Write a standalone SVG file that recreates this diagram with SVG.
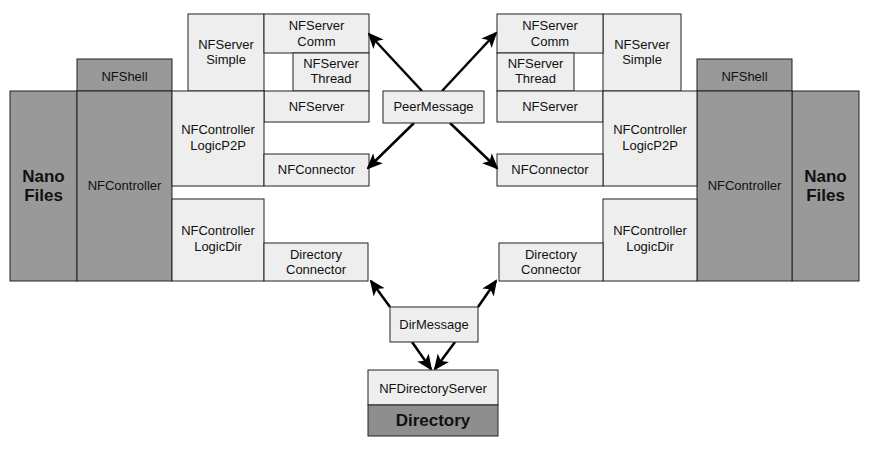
<svg xmlns="http://www.w3.org/2000/svg" width="878" height="451" viewBox="0 0 878 451">
<style>
.l{fill:#eeeeee;stroke:#222;stroke-width:1}
.d{fill:#999999;stroke:#222;stroke-width:1}
.dd{fill:#8e8e8e;stroke:#222;stroke-width:1}
text{font-family:"Liberation Sans",Arial,sans-serif;font-size:13px;fill:#111;text-anchor:middle}
.b{font-weight:bold;font-size:17px}
.c{stroke:#000;stroke-width:2.5;fill:none;marker-end:url(#ah)}
</style>
<defs>
<marker id="ah" markerUnits="userSpaceOnUse" markerWidth="16" markerHeight="14" refX="14" refY="7" orient="auto">
<path d="M0,0 L16,7 L0,14 L4,7 z" fill="#000"/>
</marker>
</defs>
<rect width="878" height="451" fill="#fff"/>
<g id="left">
<g id="l-nanofiles"><rect class="d" x="10" y="91" width="67" height="190"/><text class="b" x="43.5" y="182">Nano</text><text class="b" x="43.5" y="201">Files</text></g>
<g id="l-nfshell"><rect class="d" x="77" y="59" width="95" height="32"/><text x="124.5" y="81">NFShell</text></g>
<g id="l-nfcontroller"><rect class="d" x="77" y="91" width="95" height="190"/><text x="124.5" y="190">NFController</text></g>
<g id="l-simple"><rect class="l" x="188" y="14" width="76" height="77"/><text x="226" y="49">NFServer</text><text x="226" y="64">Simple</text></g>
<g id="l-comm"><rect class="l" x="264" y="14" width="105" height="39"/><text x="316.5" y="30">NFServer</text><text x="316.5" y="46">Comm</text></g>
<g id="l-thread"><rect class="l" x="293" y="53" width="76" height="38"/><text x="331" y="68">NFServer</text><text x="331" y="83">Thread</text></g>
<g id="l-nfserver"><rect class="l" x="264" y="91" width="105" height="31"/><text x="316.5" y="111">NFServer</text></g>
<g id="l-p2p"><rect class="l" x="172" y="91" width="92" height="95"/><text x="218" y="134">NFController</text><text x="218" y="150">LogicP2P</text></g>
<g id="l-nfconnector"><rect class="l" x="264" y="154" width="105" height="32"/><text x="316.5" y="174">NFConnector</text></g>
<g id="l-dir"><rect class="l" x="172" y="199" width="92" height="82"/><text x="218" y="235">NFController</text><text x="218" y="251">LogicDir</text></g>
<g id="l-dirconn"><rect class="l" x="264" y="243" width="104" height="38"/><text x="316" y="259">Directory</text><text x="316" y="274">Connector</text></g>
</g>
<g id="right">
<g id="r-nanofiles"><rect class="d" x="792" y="91" width="67" height="190"/><text class="b" x="825.5" y="182">Nano</text><text class="b" x="825.5" y="201">Files</text></g>
<g id="r-nfshell"><rect class="d" x="697" y="59" width="95" height="32"/><text x="744.5" y="81">NFShell</text></g>
<g id="r-nfcontroller"><rect class="d" x="697" y="91" width="95" height="190"/><text x="744.5" y="190">NFController</text></g>
<g id="r-simple"><rect class="l" x="603" y="14" width="78" height="77"/><text x="642" y="49">NFServer</text><text x="642" y="64">Simple</text></g>
<g id="r-comm"><rect class="l" x="497" y="14" width="106" height="39"/><text x="550" y="30">NFServer</text><text x="550" y="46">Comm</text></g>
<g id="r-thread"><rect class="l" x="497" y="53" width="77" height="38"/><text x="535.5" y="68">NFServer</text><text x="535.5" y="83">Thread</text></g>
<g id="r-nfserver"><rect class="l" x="497" y="91" width="106" height="31"/><text x="550" y="111">NFServer</text></g>
<g id="r-p2p"><rect class="l" x="603" y="91" width="94" height="95"/><text x="650" y="134">NFController</text><text x="650" y="150">LogicP2P</text></g>
<g id="r-nfconnector"><rect class="l" x="497" y="154" width="106" height="32"/><text x="550" y="174">NFConnector</text></g>
<g id="r-dir"><rect class="l" x="603" y="199" width="94" height="82"/><text x="650" y="235">NFController</text><text x="650" y="251">LogicDir</text></g>
<g id="r-dirconn"><rect class="l" x="499" y="243" width="104" height="38"/><text x="551" y="259">Directory</text><text x="551" y="274">Connector</text></g>
</g>
<g id="connectors">
<line class="c" x1="422" y1="91" x2="369" y2="34"/>
<line class="c" x1="442" y1="91" x2="496" y2="33"/>
<line class="c" x1="414" y1="123" x2="368" y2="168"/>
<line class="c" x1="450" y1="123" x2="497" y2="168"/>
<line class="c" x1="390" y1="307" x2="371" y2="281"/>
<line class="c" x1="478" y1="307" x2="496" y2="281"/>
<line class="c" x1="412" y1="342" x2="431" y2="369"/>
<line class="c" x1="455" y1="342" x2="435" y2="369"/>
</g>
<g id="peermessage"><rect class="l" x="383" y="91" width="101" height="32"/><text x="433.5" y="111">PeerMessage</text></g>
<g id="dirmessage"><rect class="l" x="390" y="307" width="88" height="35"/><text x="434" y="329">DirMessage</text></g>
<g id="nfdirectoryserver"><rect class="l" x="368" y="370" width="130" height="35"/><text x="433" y="393">NFDirectoryServer</text></g>
<g id="directory"><rect class="dd" x="368" y="405" width="130" height="31"/><text class="b" x="433" y="426">Directory</text></g>
</svg>
